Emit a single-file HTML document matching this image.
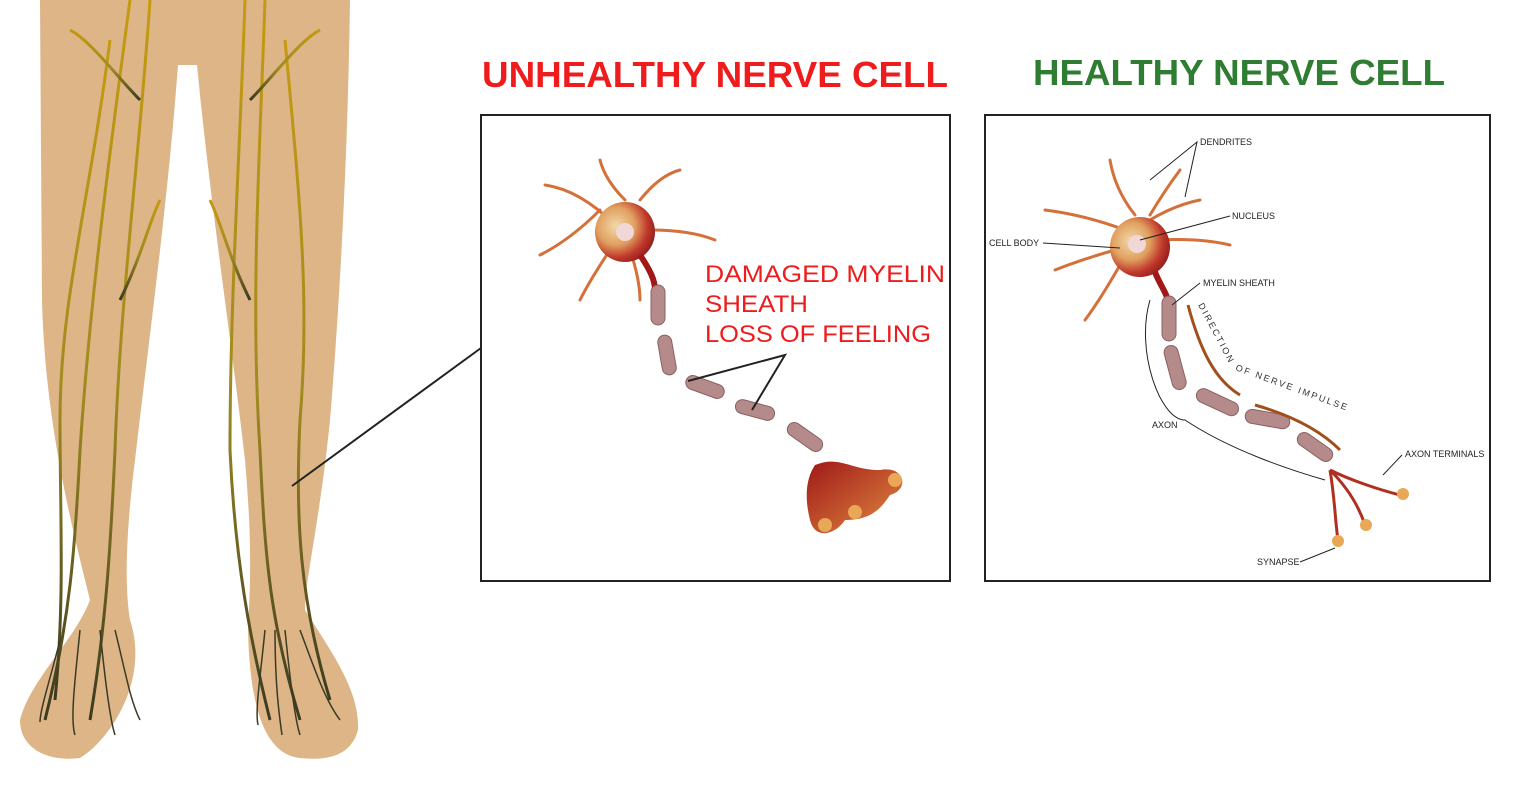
<!DOCTYPE html>
<html><head><meta charset="utf-8"><style>
html,body{margin:0;padding:0;background:#fff;}
svg{display:block;}
text{font-family:"Liberation Sans",sans-serif;}
</style></head><body>
<svg width="1520" height="800" viewBox="0 0 1520 800" xmlns="http://www.w3.org/2000/svg">
<defs>
<radialGradient id="soma" cx="0.35" cy="0.4" r="0.7">
<stop offset="0" stop-color="#f3d9a8"/><stop offset="0.45" stop-color="#e0a060"/><stop offset="0.75" stop-color="#c0392b"/><stop offset="1" stop-color="#8e1b1b"/></radialGradient>
<linearGradient id="term" x1="0" y1="0" x2="1" y2="1"><stop offset="0" stop-color="#a01818"/><stop offset="1" stop-color="#e08a40"/></linearGradient>
<linearGradient id="nerve" x1="0" y1="0" x2="0" y2="1"><stop offset="0" stop-color="#c49a10"/><stop offset="0.55" stop-color="#a08a20"/><stop offset="1" stop-color="#3a3a20"/></linearGradient>
</defs>
<!-- legs -->
<path d="M40,0 L350,0 C348,150 340,300 330,420 C320,520 305,580 305,610 C330,650 360,690 358,730 C350,760 320,760 300,758 C270,755 250,720 248,630 C252,560 250,520 245,460 C230,330 210,200 197,65 L178,65 C168,200 150,330 135,460 C125,540 125,590 130,620 C150,680 110,740 80,758 C50,762 20,750 20,720 C30,680 75,640 90,600 C70,520 45,420 42,300 Z" fill="#deb587"/>
<g fill="none" stroke="url(#nerve)" stroke-width="3">
<path d="M130,0 C110,150 90,300 80,450 C75,550 70,620 45,720"/>
<path d="M150,0 C140,150 120,300 115,450 C110,560 105,630 90,720"/>
<path d="M110,40 C90,200 60,300 60,420 C60,520 65,600 55,700"/>
<path d="M265,0 C260,150 250,300 260,450 C265,560 270,620 300,720"/>
<path d="M245,0 C240,150 230,300 230,450 C235,560 250,640 270,720"/>
<path d="M285,40 C300,200 310,300 300,420 C295,520 300,600 330,700"/>
<path d="M140,100 C120,80 90,40 70,30"/><path d="M250,100 C270,80 300,40 320,30"/>
<path d="M120,300 C140,260 150,220 160,200"/><path d="M250,300 C230,260 220,220 210,200"/>
</g>
<g fill="none" stroke="#3a3a25" stroke-width="1.5">
<path d="M60,640 C50,680 40,710 40,722"/><path d="M80,630 C75,680 70,720 75,735"/><path d="M100,630 C105,680 110,720 115,735"/><path d="M115,630 C125,670 130,700 140,720"/>
<path d="M265,630 C260,680 255,710 258,725"/><path d="M285,630 C290,680 295,720 300,735"/><path d="M300,630 C315,670 325,700 340,720"/><path d="M275,630 C275,690 280,720 282,735"/>
</g>
<line x1="292" y1="486" x2="481" y2="348" stroke="#222" stroke-width="2"/>
<!-- titles -->
<text x="482" y="87" textLength="466" lengthAdjust="spacingAndGlyphs" font-size="36" font-weight="bold" fill="#ee1c1c">UNHEALTHY NERVE CELL</text>
<text x="1033" y="85" textLength="412" lengthAdjust="spacingAndGlyphs" font-size="36" font-weight="bold" fill="#2f7d32">HEALTHY NERVE CELL</text>
<!-- boxes -->
<rect x="481" y="115" width="469" height="466" fill="#fff" stroke="#222" stroke-width="2"/>
<rect x="985" y="115" width="505" height="466" fill="#fff" stroke="#222" stroke-width="2"/>
<!-- unhealthy neuron -->
<g fill="none" stroke="#d4703a" stroke-width="3" stroke-linecap="round">
<path d="M615,225 Q580,190 545,185 M600,210 Q570,240 540,255 M610,250 Q590,280 580,300 M625,200 Q605,180 600,160 M640,200 Q660,175 680,170 M650,230 Q690,230 715,240 M630,250 Q640,280 640,300"/>
</g>
<circle cx="625" cy="232" r="30" fill="url(#soma)"/>
<circle cx="625" cy="232" r="9" fill="#f2d7d7"/>
<path d="M640,255 C650,270 655,280 655,290" stroke="#a01818" stroke-width="6" fill="none"/>
<g fill="#b58a8a" stroke="#8a6060" stroke-width="1">
<rect x="651" y="285" width="14" height="40" rx="7"/>
<rect x="660" y="335" width="14" height="40" rx="7" transform="rotate(-10 667 355)"/>
<rect x="685" y="380" width="40" height="14" rx="7" transform="rotate(20 705 387)"/>
<rect x="735" y="403" width="40" height="14" rx="7" transform="rotate(15 755 410)"/>
<rect x="785" y="430" width="40" height="14" rx="7" transform="rotate(35 805 437)"/>
</g>
<path d="M815,465 C840,455 850,470 880,470 C905,465 910,490 890,495 C880,510 870,520 845,520 C835,535 815,540 810,520 C805,500 805,480 815,465 Z" fill="url(#term)"/>
<circle cx="825" cy="525" r="7" fill="#e9a857"/><circle cx="855" cy="512" r="7" fill="#e9a857"/><circle cx="895" cy="480" r="7" fill="#e9a857"/>
<polyline points="688,381 785,355 752,410" fill="none" stroke="#222" stroke-width="2"/>
<text font-size="24" fill="#ee1c1c"><tspan x="705" y="282" textLength="240" lengthAdjust="spacingAndGlyphs">DAMAGED MYELIN</tspan><tspan x="705" y="312" textLength="103" lengthAdjust="spacingAndGlyphs">SHEATH</tspan><tspan x="705" y="342" textLength="226" lengthAdjust="spacingAndGlyphs">LOSS OF FEELING</tspan></text>
<!-- healthy neuron -->
<g fill="none" stroke="#d4703a" stroke-width="3" stroke-linecap="round">
<path d="M1125,230 Q1085,215 1045,210 M1115,250 Q1080,260 1055,270 M1120,265 Q1100,300 1085,320 M1135,215 Q1115,190 1110,160 M1150,215 Q1165,190 1180,170 M1160,240 Q1200,238 1230,245 M1150,220 Q1175,205 1200,200"/>
</g>
<circle cx="1140" cy="247" r="30" fill="url(#soma)"/>
<circle cx="1137" cy="244" r="9" fill="#f2d7d7"/>
<path d="M1155,272 C1160,285 1165,290 1168,300" stroke="#a01818" stroke-width="6" fill="none"/>
<g fill="#b58a8a" stroke="#8a6060" stroke-width="1">
<rect x="1162" y="296" width="14" height="45" rx="7"/>
<rect x="1168" y="345" width="14" height="45" rx="7" transform="rotate(-15 1175 367)"/>
<rect x="1195" y="395" width="45" height="14" rx="7" transform="rotate(25 1217 402)"/>
<rect x="1245" y="412" width="45" height="14" rx="7" transform="rotate(10 1267 419)"/>
<rect x="1295" y="440" width="40" height="14" rx="7" transform="rotate(35 1315 447)"/>
</g>
<g fill="none" stroke="#b03020" stroke-width="3">
<path d="M1330,470 C1350,480 1380,490 1400,495 M1330,470 C1350,490 1360,510 1365,525 M1330,470 C1335,500 1335,520 1338,540"/>
</g>
<circle cx="1403" cy="494" r="6" fill="#e9a857"/><circle cx="1366" cy="525" r="6" fill="#e9a857"/><circle cx="1338" cy="541" r="6" fill="#e9a857"/>
<path d="M1188,305 C1200,350 1215,380 1240,395" stroke="#a0501c" stroke-width="3" fill="none"/>
<path d="M1255,405 C1290,415 1320,430 1340,450" stroke="#a0501c" stroke-width="3" fill="none"/>
<text font-size="9" fill="#333" transform="translate(1198,305) rotate(62)" letter-spacing="2">DIRECTION</text>
<text font-size="9" fill="#333" transform="translate(1235,370) rotate(20)" letter-spacing="2">OF NERVE IMPULSE</text>
<g stroke="#222" stroke-width="1" fill="none">
<polyline points="1150,180 1197,142 1185,197"/>
<line x1="1230" y1="216" x2="1140" y2="240"/>
<line x1="1043" y1="243" x2="1120" y2="248"/>
<line x1="1200" y1="283" x2="1172" y2="305"/>
<path d="M1150,300 C1135,350 1160,420 1185,420 C1230,450 1290,470 1325,480"/>
<line x1="1402" y1="455" x2="1383" y2="475"/>
<line x1="1300" y1="562" x2="1335" y2="548"/>
</g>
<g font-size="9" fill="#222">
<text x="1200" y="145">DENDRITES</text>
<text x="1232" y="219">NUCLEUS</text>
<text x="989" y="246">CELL BODY</text>
<text x="1203" y="286">MYELIN SHEATH</text>
<text x="1152" y="428">AXON</text>
<text x="1405" y="457">AXON TERMINALS</text>
<text x="1257" y="565">SYNAPSE</text>
</g>
</svg>
</body></html>
